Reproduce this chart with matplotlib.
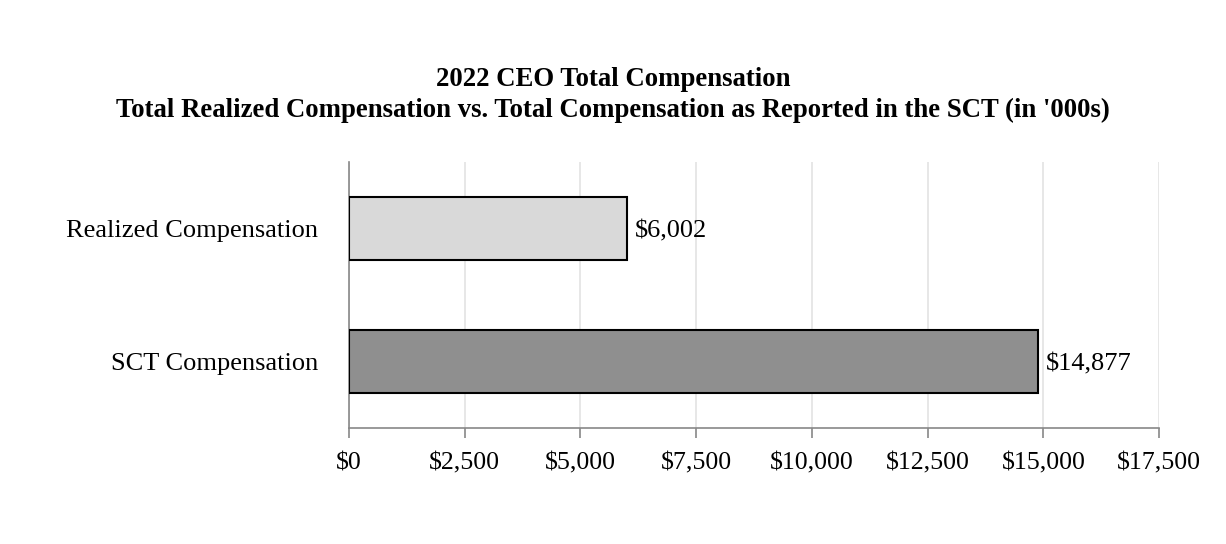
import matplotlib.pyplot as plt
import numpy as np

categories = ["SCT Compensation", "Realized Compensation"]
values = [14877, 6002]
bar_colors = ["#8f8f8f", "#d9d9d9"]
xticks = [0, 2500, 5000, 7500, 10000, 12500, 15000, 17500]

plt.rcParams["font.family"] = ["Liberation Serif", "DejaVu Serif"]

fig = plt.figure(figsize=(12.26, 5.44), dpi=100)
ax = fig.add_axes([0.2847, 0.2132, 0.6607, 0.489])

y = np.arange(len(categories))
ax.barh(y, values, height=0.48, color=bar_colors, edgecolor="black", linewidth=1.5, zorder=3)

for yi, v in zip(y, values):
    ax.annotate("${:,}".format(v), (v, yi), xytext=(6, 0), textcoords="offset points",
                va="center_baseline", ha="left", fontsize=19)

ax.set_xlim(0, 17500)
ax.set_ylim(-0.5, 1.5)
ax.set_xticks(xticks)
ax.set_xticklabels(["${:,}".format(t) for t in xticks], fontsize=18.6)
ax.set_yticks(y)
ax.set_yticklabels(categories, fontsize=19)
ax.tick_params(axis="y", length=0, pad=22)
ax.tick_params(axis="x", length=7.5, width=1.2, color="#888888", pad=10)

ax.grid(axis="x", color="#e3e3e3", linewidth=1.2, zorder=0)
for s in ["top", "right"]:
    ax.spines[s].set_visible(False)
for s in ["left", "bottom"]:
    ax.spines[s].set_color("#888888")
    ax.spines[s].set_linewidth(1.2)

fig.text(0.5, 1 - 86 / 544, "2022 CEO Total Compensation",
         ha="center", va="baseline", fontsize=19.3, fontweight="bold")
fig.text(0.5, 1 - 117 / 544, "Total Realized Compensation vs. Total Compensation as Reported in the SCT (in '000s)",
         ha="center", va="baseline", fontsize=19.3, fontweight="bold")

fig.savefig("out.png", dpi=100)
